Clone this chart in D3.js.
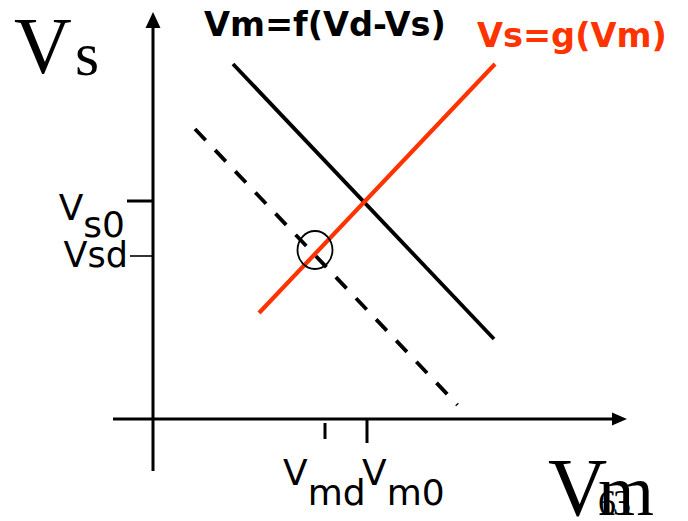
<!DOCTYPE html>
<html>
<head>
<meta charset="utf-8">
<script src="https://cdn.jsdelivr.net/npm/d3@7"></script>
<style>
  html, body { margin: 0; padding: 0; background: #fff; }
  svg { display: block; }
</style>
</head>
<body>
<svg id="chart" width="688" height="521"></svg>
<script>
// ---------------- data (chart units) ----------------
const xAxisExtent = [-8, 94.8];
const yAxisExtent = [-10.4, 81.4];

// Vm = f(Vd - Vs) (solid black)
const fLineVm = [16, 68.2];
const fLineVs = [71, 16];
// Vm = f(Vd' - Vs) shifted (dashed black)
const fdLineVm = [8.4, 60.9];
const fdLineVs = [58, 2.8];
// Vs = g(Vm) (red)
const gLineVm = [21.2, 68.4];
const gLineVs = [21.2, 71];

// operating point marked with a circle
const circlePoint = [32.4, 33.8];

const yTickValues = [43.6, 32.6];
const yTickMain = ["V", "Vsd"];
const yTickSub = ["s0", ""];
const xTickValues = [34.4, 42.8];
const xTickMain = ["V", "V"];
const xTickSub = ["md", "m0"];

const fLabel = "Vm=f(Vd-Vs)";
const gLabel = "Vs=g(Vm)";
const pageNumber = "63";

// ---------------- scales ----------------
const svg = d3.select("#chart");
const x = d3.scaleLinear().domain([0, 100]).range([153, 653]);
const y = d3.scaleLinear().domain([0, 100]).range([419, -81]);

const RED = "#ff3300";
const sans = "'DejaVu Sans', Verdana, sans-serif";
const serif = "'Liberation Serif', 'Times New Roman', serif";

// ---------------- axes ----------------
const gAx = svg.append("g");
gAx.append("line")
  .attr("x1", x(xAxisExtent[0])).attr("x2", x(xAxisExtent[1]) - 12)
  .attr("y1", y(0)).attr("y2", y(0))
  .attr("stroke", "#000").attr("stroke-width", 3);
gAx.append("path")
  .attr("d", `M${x(xAxisExtent[1])},${y(0)} l-15,-6.5 l0,13 z`)
  .attr("fill", "#000");
gAx.append("line")
  .attr("x1", x(0)).attr("x2", x(0))
  .attr("y1", y(yAxisExtent[0])).attr("y2", y(yAxisExtent[1]) + 12)
  .attr("stroke", "#000").attr("stroke-width", 3);
gAx.append("path")
  .attr("d", `M${x(0)},${y(yAxisExtent[1])} l-7.5,16 l15,0 z`)
  .attr("fill", "#000");

// y ticks
const yTickLen = [26, 23];
const yTickW = [3, 1.6];
yTickValues.forEach((v, i) => {
  gAx.append("line")
    .attr("x1", x(0) - yTickLen[i]).attr("x2", x(0))
    .attr("y1", y(v)).attr("y2", y(v))
    .attr("stroke", "#000").attr("stroke-width", yTickW[i]);
});
// x ticks
const xTickTop = [-4, 0];
const xTickBot = [-20, -24];
xTickValues.forEach((v, i) => {
  gAx.append("line")
    .attr("x1", x(v)).attr("x2", x(v))
    .attr("y1", y(0) - xTickTop[i]).attr("y2", y(0) - xTickBot[i])
    .attr("stroke", "#000").attr("stroke-width", 3);
});

// ---------------- lines ----------------
const lineGen = d3.line().x(d => x(d[0])).y(d => y(d[1]));
svg.append("path")
  .attr("d", lineGen(d3.zip(fdLineVm, fdLineVs)))
  .attr("fill", "none").attr("stroke", "#000").attr("stroke-width", 3.8)
  .attr("stroke-dasharray", "15.5,13.7");
svg.append("path")
  .attr("d", lineGen(d3.zip(fLineVm, fLineVs)))
  .attr("fill", "none").attr("stroke", "#000").attr("stroke-width", 3.8);
svg.append("path")
  .attr("d", lineGen(d3.zip(gLineVm, gLineVs)))
  .attr("fill", "none").attr("stroke", RED).attr("stroke-width", 4.2);

svg.append("ellipse")
  .attr("cx", x(circlePoint[0])).attr("cy", y(circlePoint[1]))
  .attr("rx", 17.5).attr("ry", 19)
  .attr("fill", "none").attr("stroke", "#000").attr("stroke-width", 1.8);

// ---------------- tick labels ----------------
const yLab0 = svg.append("text")
  .attr("x", 125).attr("y", y(yTickValues[0]) + 19)
  .attr("text-anchor", "end")
  .attr("font-family", sans).attr("font-size", 36).attr("fill", "#000");
yLab0.append("tspan").text(yTickMain[0]);
yLab0.append("tspan").attr("dy", 17).text(yTickSub[0]);

svg.append("text")
  .attr("x", 128).attr("y", y(yTickValues[1]) + 11)
  .attr("text-anchor", "end")
  .attr("font-family", sans).attr("font-size", 35).attr("fill", "#000")
  .text(yTickMain[1] + yTickSub[1]);

const xLabOffset = [-42, -5];
xTickValues.forEach((v, i) => {
  const t = svg.append("text")
    .attr("x", x(v) + xLabOffset[i]).attr("y", 485)
    .attr("font-family", sans).attr("font-size", 36).attr("fill", "#000");
  t.append("tspan").text(xTickMain[i]);
  t.append("tspan").attr("dy", 20).text(xTickSub[i]);
});

// ---------------- axis titles ----------------
svg.append("text").attr("x", 14).attr("y", 73)
  .attr("font-family", serif).attr("font-size", 80).text("V");
svg.append("text").attr("x", 75).attr("y", 75)
  .attr("font-family", serif).attr("font-size", 62).text("s");

svg.append("text").attr("x", 548).attr("y", 515)
  .attr("font-family", serif).attr("font-size", 82).text("V");
svg.append("text").attr("x", 598).attr("y", 515)
  .attr("font-family", serif).attr("font-size", 72).text("m");
svg.append("text").attr("x", 598).attr("y", 515)
  .attr("font-family", serif).attr("font-size", 36).attr("letter-spacing", -3)
  .text(pageNumber);

// ---------------- curve labels ----------------
svg.append("text").attr("x", 204).attr("y", 36)
  .attr("font-family", sans).attr("font-weight", "bold").attr("font-size", 33.6)
  .attr("fill", "#000").text(fLabel);
svg.append("text").attr("x", 477).attr("y", 47)
  .attr("font-family", sans).attr("font-weight", "bold").attr("font-size", 33.6)
  .attr("fill", RED).text(gLabel);
</script>
</body>
</html>
